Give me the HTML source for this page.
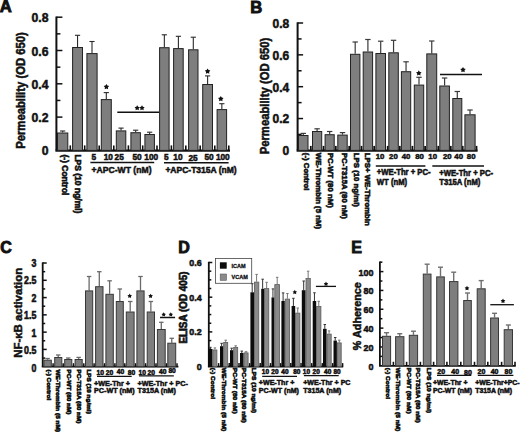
<!DOCTYPE html>
<html><head><meta charset="utf-8"><title>Figure</title>
<style>
html,body{margin:0;padding:0;background:#fff;}
body{width:520px;height:432px;overflow:hidden;}
svg{display:block;font-family:"Liberation Sans", sans-serif;}
</style></head>
<body>
<svg width="520" height="432" viewBox="0 0 520 432">
<rect x="0" y="0" width="520" height="432" fill="#fff"/>
<text x="-0.3" y="12.1" font-size="16.6" font-weight="bold" text-anchor="start" fill="#111" stroke="#111" stroke-width="0.9">A</text>
<line x1="56.4" y1="16.5" x2="56.4" y2="150.4" stroke="#111" stroke-width="2"/>
<line x1="56.4" y1="17.2" x2="62.4" y2="17.2" stroke="#111" stroke-width="1.5"/>
<line x1="56.4" y1="50.5" x2="62.4" y2="50.5" stroke="#111" stroke-width="1.5"/>
<line x1="56.4" y1="83.8" x2="62.4" y2="83.8" stroke="#111" stroke-width="1.5"/>
<line x1="56.4" y1="117.1" x2="62.4" y2="117.1" stroke="#111" stroke-width="1.5"/>
<line x1="56.4" y1="33.85" x2="60.4" y2="33.85" stroke="#111" stroke-width="1.5"/>
<line x1="56.4" y1="67.15" x2="60.4" y2="67.15" stroke="#111" stroke-width="1.5"/>
<line x1="56.4" y1="100.45" x2="60.4" y2="100.45" stroke="#111" stroke-width="1.5"/>
<line x1="56.4" y1="133.75" x2="60.4" y2="133.75" stroke="#111" stroke-width="1.5"/>
<text x="48.5" y="22.2" font-size="12.2" font-weight="bold" text-anchor="end" fill="#111" stroke="#111" stroke-width="0.5">0.8</text>
<text x="48.5" y="55.5" font-size="12.2" font-weight="bold" text-anchor="end" fill="#111" stroke="#111" stroke-width="0.5">0.6</text>
<text x="48.5" y="88.8" font-size="12.2" font-weight="bold" text-anchor="end" fill="#111" stroke="#111" stroke-width="0.5">0.4</text>
<text x="48.5" y="122.1" font-size="12.2" font-weight="bold" text-anchor="end" fill="#111" stroke="#111" stroke-width="0.5">0.2</text>
<text x="48.5" y="155.4" font-size="12.2" font-weight="bold" text-anchor="end" fill="#111" stroke="#111" stroke-width="0.5">0</text>
<text x="0" y="0" font-size="11.3" font-weight="bold" text-anchor="middle" fill="#111" transform="translate(25.3 90.5) rotate(-90) scale(1 1.06)" stroke="#111" stroke-width="0.5">Permeability (OD 650)</text>
<line x1="55.4" y1="150.6" x2="230" y2="150.6" stroke="#111" stroke-width="2.2"/>
<line x1="70.3" y1="145.4" x2="70.3" y2="150.4" stroke="#111" stroke-width="1.6"/>
<line x1="84.7" y1="145.4" x2="84.7" y2="150.4" stroke="#111" stroke-width="1.6"/>
<line x1="99.2" y1="145.4" x2="99.2" y2="150.4" stroke="#111" stroke-width="1.6"/>
<line x1="113.8" y1="145.4" x2="113.8" y2="150.4" stroke="#111" stroke-width="1.6"/>
<line x1="128.4" y1="145.4" x2="128.4" y2="150.4" stroke="#111" stroke-width="1.6"/>
<line x1="142.7" y1="145.4" x2="142.7" y2="150.4" stroke="#111" stroke-width="1.6"/>
<line x1="157" y1="145.4" x2="157" y2="150.4" stroke="#111" stroke-width="1.6"/>
<line x1="171.4" y1="145.4" x2="171.4" y2="150.4" stroke="#111" stroke-width="1.6"/>
<line x1="185.8" y1="145.4" x2="185.8" y2="150.4" stroke="#111" stroke-width="1.6"/>
<line x1="200.2" y1="145.4" x2="200.2" y2="150.4" stroke="#111" stroke-width="1.6"/>
<line x1="214.8" y1="145.4" x2="214.8" y2="150.4" stroke="#111" stroke-width="1.6"/>
<line x1="228.8" y1="145.4" x2="228.8" y2="150.4" stroke="#111" stroke-width="1.6"/>
<line x1="62.65" y1="132.5" x2="62.65" y2="131" stroke="#2a2a2a" stroke-width="1.1"/>
<line x1="60.05" y1="131" x2="65.25" y2="131" stroke="#2a2a2a" stroke-width="1.1"/>
<rect x="57.5" y="133" width="10.3" height="17.4" fill="#7e7e7e" stroke="#222" stroke-width="1"/>
<line x1="77.55" y1="47" x2="77.55" y2="35.3" stroke="#2a2a2a" stroke-width="1.1"/>
<line x1="74.95" y1="35.3" x2="80.15" y2="35.3" stroke="#2a2a2a" stroke-width="1.1"/>
<rect x="72.6" y="47.5" width="9.9" height="102.9" fill="#7e7e7e" stroke="#222" stroke-width="1"/>
<line x1="92" y1="53.1" x2="92" y2="41.5" stroke="#2a2a2a" stroke-width="1.1"/>
<line x1="89.4" y1="41.5" x2="94.6" y2="41.5" stroke="#2a2a2a" stroke-width="1.1"/>
<rect x="86.9" y="53.6" width="10.2" height="96.8" fill="#7e7e7e" stroke="#222" stroke-width="1"/>
<line x1="106.3" y1="99.1" x2="106.3" y2="92.6" stroke="#2a2a2a" stroke-width="1.1"/>
<line x1="103.7" y1="92.6" x2="108.9" y2="92.6" stroke="#2a2a2a" stroke-width="1.1"/>
<rect x="101.3" y="99.6" width="10" height="50.8" fill="#7e7e7e" stroke="#222" stroke-width="1"/>
<line x1="121.05" y1="130.4" x2="121.05" y2="128.1" stroke="#2a2a2a" stroke-width="1.1"/>
<line x1="118.45" y1="128.1" x2="123.65" y2="128.1" stroke="#2a2a2a" stroke-width="1.1"/>
<rect x="116.3" y="130.9" width="9.5" height="19.5" fill="#7e7e7e" stroke="#222" stroke-width="1"/>
<line x1="135.65" y1="132.2" x2="135.65" y2="130.2" stroke="#2a2a2a" stroke-width="1.1"/>
<line x1="133.05" y1="130.2" x2="138.25" y2="130.2" stroke="#2a2a2a" stroke-width="1.1"/>
<rect x="130.9" y="132.7" width="9.5" height="17.7" fill="#7e7e7e" stroke="#222" stroke-width="1"/>
<line x1="149.65" y1="134" x2="149.65" y2="132.2" stroke="#2a2a2a" stroke-width="1.1"/>
<line x1="147.05" y1="132.2" x2="152.25" y2="132.2" stroke="#2a2a2a" stroke-width="1.1"/>
<rect x="144.9" y="134.5" width="9.5" height="15.9" fill="#7e7e7e" stroke="#222" stroke-width="1"/>
<line x1="164.35" y1="47.2" x2="164.35" y2="34.8" stroke="#2a2a2a" stroke-width="1.1"/>
<line x1="161.75" y1="34.8" x2="166.95" y2="34.8" stroke="#2a2a2a" stroke-width="1.1"/>
<rect x="159.6" y="47.7" width="9.5" height="102.7" fill="#7e7e7e" stroke="#222" stroke-width="1"/>
<line x1="178.4" y1="48.1" x2="178.4" y2="36.3" stroke="#2a2a2a" stroke-width="1.1"/>
<line x1="175.8" y1="36.3" x2="181" y2="36.3" stroke="#2a2a2a" stroke-width="1.1"/>
<rect x="173.6" y="48.6" width="9.6" height="101.8" fill="#7e7e7e" stroke="#222" stroke-width="1"/>
<line x1="193.3" y1="49.3" x2="193.3" y2="37.2" stroke="#2a2a2a" stroke-width="1.1"/>
<line x1="190.7" y1="37.2" x2="195.9" y2="37.2" stroke="#2a2a2a" stroke-width="1.1"/>
<rect x="188.6" y="49.8" width="9.4" height="100.6" fill="#7e7e7e" stroke="#222" stroke-width="1"/>
<line x1="207.6" y1="84" x2="207.6" y2="75.9" stroke="#2a2a2a" stroke-width="1.1"/>
<line x1="205" y1="75.9" x2="210.2" y2="75.9" stroke="#2a2a2a" stroke-width="1.1"/>
<rect x="202.7" y="84.5" width="9.8" height="65.9" fill="#7e7e7e" stroke="#222" stroke-width="1"/>
<line x1="221.85" y1="109.1" x2="221.85" y2="103.7" stroke="#2a2a2a" stroke-width="1.1"/>
<line x1="219.25" y1="103.7" x2="224.45" y2="103.7" stroke="#2a2a2a" stroke-width="1.1"/>
<rect x="217.1" y="109.6" width="9.5" height="40.8" fill="#7e7e7e" stroke="#222" stroke-width="1"/>
<polygon points="106.4,83.9 107.34,85.51 109.16,85.9 107.92,87.29 108.1,89.15 106.4,88.39 104.7,89.15 104.88,87.29 103.64,85.9 105.46,85.51" fill="#111"/>
<polygon points="220.8,96 221.74,97.61 223.56,98 222.32,99.39 222.5,101.25 220.8,100.5 219.1,101.25 219.28,99.39 218.04,98 219.86,97.61" fill="#111"/>
<polygon points="207.6,68.5 208.54,70.11 210.36,70.5 209.12,71.89 209.3,73.75 207.6,73 205.9,73.75 206.08,71.89 204.84,70.5 206.66,70.11" fill="#111"/>
<line x1="117.3" y1="112.3" x2="159" y2="112.3" stroke="#111" stroke-width="1.5"/>
<polygon points="137.2,105.2 138.11,106.75 139.86,107.13 138.66,108.48 138.85,110.27 137.2,109.54 135.55,110.27 135.74,108.48 134.54,107.13 136.29,106.75" fill="#111"/>
<polygon points="142,105.2 142.91,106.75 144.66,107.13 143.46,108.48 143.65,110.27 142,109.54 140.35,110.27 140.54,108.48 139.34,107.13 141.09,106.75" fill="#111"/>
<text x="0" y="0" font-size="8.5" font-weight="bold" text-anchor="start" fill="#111" transform="translate(61.7 154.4) rotate(90)" stroke="#111" stroke-width="0.6">(-) Control</text>
<text x="0" y="0" font-size="8.5" font-weight="bold" text-anchor="start" fill="#111" transform="translate(75.2 154.4) rotate(90)" stroke="#111" stroke-width="0.6">LPS (10 ng/ml)</text>
<text x="93.8" y="160.3" font-size="8.3" font-weight="bold" text-anchor="middle" fill="#111" stroke="#111" stroke-width="0.5">5</text>
<text x="108.3" y="160.3" font-size="8.3" font-weight="bold" text-anchor="middle" fill="#111" stroke="#111" stroke-width="0.5">10</text>
<text x="119.2" y="160.1" font-size="8.3" font-weight="bold" text-anchor="middle" fill="#111" stroke="#111" stroke-width="0.5">25</text>
<text x="137" y="160.3" font-size="8.3" font-weight="bold" text-anchor="middle" fill="#111" stroke="#111" stroke-width="0.5">50</text>
<text x="151.2" y="160.3" font-size="8.3" font-weight="bold" text-anchor="middle" fill="#111" stroke="#111" stroke-width="0.5">100</text>
<text x="166.2" y="160" font-size="8.3" font-weight="bold" text-anchor="middle" fill="#111" stroke="#111" stroke-width="0.5">5</text>
<text x="177.9" y="160" font-size="8.3" font-weight="bold" text-anchor="middle" fill="#111" stroke="#111" stroke-width="0.5">10</text>
<text x="193.1" y="161.3" font-size="8.3" font-weight="bold" text-anchor="middle" fill="#111" stroke="#111" stroke-width="0.5">25</text>
<text x="209" y="160" font-size="8.3" font-weight="bold" text-anchor="middle" fill="#111" stroke="#111" stroke-width="0.5">50</text>
<text x="222.8" y="160" font-size="8.3" font-weight="bold" text-anchor="middle" fill="#111" stroke="#111" stroke-width="0.5">100</text>
<line x1="90.4" y1="162.5" x2="154.2" y2="162.5" stroke="#111" stroke-width="1.3"/>
<line x1="164" y1="162.7" x2="228.6" y2="162.7" stroke="#111" stroke-width="1.4"/>
<text x="91.6" y="172.9" font-size="8.6" font-weight="bold" text-anchor="start" fill="#111" stroke="#111" stroke-width="0.5">+APC-WT (nM)</text>
<text x="165.4" y="173.1" font-size="8.5" font-weight="bold" text-anchor="start" fill="#111" stroke="#111" stroke-width="0.5">+APC-T315A (nM)</text>
<text x="250.3" y="12.6" font-size="16.6" font-weight="bold" text-anchor="start" fill="#111" stroke="#111" stroke-width="0.9">B</text>
<line x1="297.6" y1="22.3" x2="297.6" y2="150.4" stroke="#111" stroke-width="2"/>
<line x1="297.6" y1="23" x2="303.1" y2="23" stroke="#111" stroke-width="1.5"/>
<line x1="297.6" y1="54.85" x2="303.1" y2="54.85" stroke="#111" stroke-width="1.5"/>
<line x1="297.6" y1="86.7" x2="303.1" y2="86.7" stroke="#111" stroke-width="1.5"/>
<line x1="297.6" y1="118.55" x2="303.1" y2="118.55" stroke="#111" stroke-width="1.5"/>
<line x1="297.6" y1="38.93" x2="301.6" y2="38.93" stroke="#111" stroke-width="1.5"/>
<line x1="297.6" y1="70.78" x2="301.6" y2="70.78" stroke="#111" stroke-width="1.5"/>
<line x1="297.6" y1="102.62" x2="301.6" y2="102.62" stroke="#111" stroke-width="1.5"/>
<line x1="297.6" y1="134.47" x2="301.6" y2="134.47" stroke="#111" stroke-width="1.5"/>
<text x="289.2" y="27.8" font-size="12" font-weight="bold" text-anchor="end" fill="#111" stroke="#111" stroke-width="0.5">0.8</text>
<text x="289.2" y="59.65" font-size="12" font-weight="bold" text-anchor="end" fill="#111" stroke="#111" stroke-width="0.5">0.6</text>
<text x="289.2" y="91.5" font-size="12" font-weight="bold" text-anchor="end" fill="#111" stroke="#111" stroke-width="0.5">0.4</text>
<text x="289.2" y="123.35" font-size="12" font-weight="bold" text-anchor="end" fill="#111" stroke="#111" stroke-width="0.5">0.2</text>
<text x="289.2" y="155.2" font-size="12" font-weight="bold" text-anchor="end" fill="#111" stroke="#111" stroke-width="0.5">0</text>
<text x="0" y="0" font-size="11.3" font-weight="bold" text-anchor="middle" fill="#111" transform="translate(268.5 96) rotate(-90) scale(1 1.06)" stroke="#111" stroke-width="0.5">Permeability (OD 650)</text>
<line x1="296.6" y1="150.6" x2="477.6" y2="150.6" stroke="#111" stroke-width="2.2"/>
<line x1="310.8" y1="145.9" x2="310.8" y2="150.4" stroke="#111" stroke-width="1.8"/>
<line x1="323.5" y1="145.9" x2="323.5" y2="150.4" stroke="#111" stroke-width="1.8"/>
<line x1="335.8" y1="145.9" x2="335.8" y2="150.4" stroke="#111" stroke-width="1.8"/>
<line x1="349.2" y1="145.9" x2="349.2" y2="150.4" stroke="#111" stroke-width="1.8"/>
<line x1="361.5" y1="145.9" x2="361.5" y2="150.4" stroke="#111" stroke-width="1.8"/>
<line x1="374.2" y1="145.9" x2="374.2" y2="150.4" stroke="#111" stroke-width="1.8"/>
<line x1="387.7" y1="145.9" x2="387.7" y2="150.4" stroke="#111" stroke-width="1.8"/>
<line x1="399.8" y1="145.9" x2="399.8" y2="150.4" stroke="#111" stroke-width="1.8"/>
<line x1="412.4" y1="145.9" x2="412.4" y2="150.4" stroke="#111" stroke-width="1.8"/>
<line x1="425.1" y1="145.9" x2="425.1" y2="150.4" stroke="#111" stroke-width="1.8"/>
<line x1="438.3" y1="145.9" x2="438.3" y2="150.4" stroke="#111" stroke-width="1.8"/>
<line x1="450.8" y1="145.9" x2="450.8" y2="150.4" stroke="#111" stroke-width="1.8"/>
<line x1="462.7" y1="145.9" x2="462.7" y2="150.4" stroke="#111" stroke-width="1.8"/>
<line x1="476.5" y1="145.9" x2="476.5" y2="150.4" stroke="#111" stroke-width="1.8"/>
<line x1="303.25" y1="135" x2="303.25" y2="133.4" stroke="#3a3a3a" stroke-width="1.2"/>
<line x1="300.55" y1="133.4" x2="305.95" y2="133.4" stroke="#3a3a3a" stroke-width="1.2"/>
<rect x="298.5" y="135.5" width="9.5" height="14.9" fill="#7e7e7e" stroke="#222" stroke-width="1"/>
<line x1="317.1" y1="131" x2="317.1" y2="128.8" stroke="#3a3a3a" stroke-width="1.2"/>
<line x1="314.4" y1="128.8" x2="319.8" y2="128.8" stroke="#3a3a3a" stroke-width="1.2"/>
<rect x="312.5" y="131.5" width="9.2" height="18.9" fill="#7e7e7e" stroke="#222" stroke-width="1"/>
<line x1="329.65" y1="134.2" x2="329.65" y2="131.5" stroke="#3a3a3a" stroke-width="1.2"/>
<line x1="326.95" y1="131.5" x2="332.35" y2="131.5" stroke="#3a3a3a" stroke-width="1.2"/>
<rect x="325.1" y="134.7" width="9.1" height="15.7" fill="#7e7e7e" stroke="#222" stroke-width="1"/>
<line x1="342.5" y1="134.6" x2="342.5" y2="132.6" stroke="#3a3a3a" stroke-width="1.2"/>
<line x1="339.8" y1="132.6" x2="345.2" y2="132.6" stroke="#3a3a3a" stroke-width="1.2"/>
<rect x="337.8" y="135.1" width="9.4" height="15.3" fill="#7e7e7e" stroke="#222" stroke-width="1"/>
<line x1="355.2" y1="53.8" x2="355.2" y2="42" stroke="#3a3a3a" stroke-width="1.2"/>
<line x1="352.5" y1="42" x2="357.9" y2="42" stroke="#3a3a3a" stroke-width="1.2"/>
<rect x="350.5" y="54.3" width="9.4" height="96.1" fill="#7e7e7e" stroke="#222" stroke-width="1"/>
<line x1="367.9" y1="51.5" x2="367.9" y2="39.5" stroke="#3a3a3a" stroke-width="1.2"/>
<line x1="365.2" y1="39.5" x2="370.6" y2="39.5" stroke="#3a3a3a" stroke-width="1.2"/>
<rect x="363.2" y="52" width="9.4" height="98.4" fill="#7e7e7e" stroke="#222" stroke-width="1"/>
<line x1="380.7" y1="53" x2="380.7" y2="41.2" stroke="#3a3a3a" stroke-width="1.2"/>
<line x1="378" y1="41.2" x2="383.4" y2="41.2" stroke="#3a3a3a" stroke-width="1.2"/>
<rect x="375.9" y="53.5" width="9.6" height="96.9" fill="#7e7e7e" stroke="#222" stroke-width="1"/>
<line x1="393.55" y1="52.3" x2="393.55" y2="40.3" stroke="#3a3a3a" stroke-width="1.2"/>
<line x1="390.85" y1="40.3" x2="396.25" y2="40.3" stroke="#3a3a3a" stroke-width="1.2"/>
<rect x="388.8" y="52.8" width="9.5" height="97.6" fill="#7e7e7e" stroke="#222" stroke-width="1"/>
<line x1="406.05" y1="71.2" x2="406.05" y2="61.8" stroke="#3a3a3a" stroke-width="1.2"/>
<line x1="403.35" y1="61.8" x2="408.75" y2="61.8" stroke="#3a3a3a" stroke-width="1.2"/>
<rect x="401.4" y="71.7" width="9.3" height="78.7" fill="#7e7e7e" stroke="#222" stroke-width="1"/>
<line x1="419" y1="84.6" x2="419" y2="77.3" stroke="#3a3a3a" stroke-width="1.2"/>
<line x1="416.3" y1="77.3" x2="421.7" y2="77.3" stroke="#3a3a3a" stroke-width="1.2"/>
<rect x="414.3" y="85.1" width="9.4" height="65.3" fill="#7e7e7e" stroke="#222" stroke-width="1"/>
<line x1="431.75" y1="53.4" x2="431.75" y2="41" stroke="#3a3a3a" stroke-width="1.2"/>
<line x1="429.05" y1="41" x2="434.45" y2="41" stroke="#3a3a3a" stroke-width="1.2"/>
<rect x="426.8" y="53.9" width="9.9" height="96.5" fill="#7e7e7e" stroke="#222" stroke-width="1"/>
<line x1="444.6" y1="85.5" x2="444.6" y2="78" stroke="#3a3a3a" stroke-width="1.2"/>
<line x1="441.9" y1="78" x2="447.3" y2="78" stroke="#3a3a3a" stroke-width="1.2"/>
<rect x="439.8" y="86" width="9.6" height="64.4" fill="#7e7e7e" stroke="#222" stroke-width="1"/>
<line x1="457.3" y1="98" x2="457.3" y2="91.5" stroke="#3a3a3a" stroke-width="1.2"/>
<line x1="454.6" y1="91.5" x2="460" y2="91.5" stroke="#3a3a3a" stroke-width="1.2"/>
<rect x="452.8" y="98.5" width="9" height="51.9" fill="#7e7e7e" stroke="#222" stroke-width="1"/>
<line x1="470" y1="114.3" x2="470" y2="110" stroke="#3a3a3a" stroke-width="1.2"/>
<line x1="467.3" y1="110" x2="472.7" y2="110" stroke="#3a3a3a" stroke-width="1.2"/>
<rect x="464.9" y="114.8" width="10.2" height="35.6" fill="#7e7e7e" stroke="#222" stroke-width="1"/>
<polygon points="418.8,70.3 419.74,71.91 421.56,72.3 420.32,73.69 420.5,75.55 418.8,74.8 417.1,75.55 417.28,73.69 416.04,72.3 417.86,71.91" fill="#111"/>
<line x1="440" y1="74.6" x2="482" y2="74.6" stroke="#111" stroke-width="1.5"/>
<polygon points="463,66.9 463.94,68.51 465.76,68.9 464.52,70.29 464.7,72.15 463,71.39 461.3,72.15 461.48,70.29 460.24,68.9 462.06,68.51" fill="#111"/>
<text x="0" y="0" font-size="7.8" font-weight="bold" text-anchor="start" fill="#111" transform="translate(303.9 152.8) rotate(90)" stroke="#111" stroke-width="0.6">(-) Control</text>
<text x="0" y="0" font-size="7.8" font-weight="bold" text-anchor="start" fill="#111" transform="translate(316.1 152.8) rotate(90)" stroke="#111" stroke-width="0.6">WE-Thrombin (5 nM)</text>
<text x="0" y="0" font-size="7.8" font-weight="bold" text-anchor="start" fill="#111" transform="translate(328.3 152.8) rotate(90)" stroke="#111" stroke-width="0.6">PC-WT (80 nM)</text>
<text x="0" y="0" font-size="7.8" font-weight="bold" text-anchor="start" fill="#111" transform="translate(341.5 152.8) rotate(90)" stroke="#111" stroke-width="0.6">PC-T315A (80 nM)</text>
<text x="0" y="0" font-size="7.8" font-weight="bold" text-anchor="start" fill="#111" transform="translate(354.1 152.8) rotate(90)" stroke="#111" stroke-width="0.6">LPS (10 ng/ml)</text>
<text x="0" y="0" font-size="7.8" font-weight="bold" text-anchor="start" fill="#111" transform="translate(365.3 152.8) rotate(90)" stroke="#111" stroke-width="0.6">LPS+ WE-Thrombin</text>
<text x="380" y="159.3" font-size="7.8" font-weight="bold" text-anchor="middle" fill="#111" stroke="#111" stroke-width="0.5">10</text>
<text x="393.4" y="159.3" font-size="7.8" font-weight="bold" text-anchor="middle" fill="#111" stroke="#111" stroke-width="0.5">20</text>
<text x="406" y="159.3" font-size="7.8" font-weight="bold" text-anchor="middle" fill="#111" stroke="#111" stroke-width="0.5">40</text>
<text x="419.6" y="159.3" font-size="7.8" font-weight="bold" text-anchor="middle" fill="#111" stroke="#111" stroke-width="0.5">80</text>
<text x="432.7" y="159.3" font-size="7.8" font-weight="bold" text-anchor="middle" fill="#111" stroke="#111" stroke-width="0.5">10</text>
<text x="447.3" y="159.3" font-size="7.8" font-weight="bold" text-anchor="middle" fill="#111" stroke="#111" stroke-width="0.5">20</text>
<text x="458.7" y="159.3" font-size="7.8" font-weight="bold" text-anchor="middle" fill="#111" stroke="#111" stroke-width="0.5">40</text>
<text x="471.2" y="159.3" font-size="7.8" font-weight="bold" text-anchor="middle" fill="#111" stroke="#111" stroke-width="0.5">80</text>
<line x1="375.8" y1="165.9" x2="425.4" y2="165.9" stroke="#111" stroke-width="1.5"/>
<line x1="432.3" y1="166" x2="484" y2="166" stroke="#111" stroke-width="1.5"/>
<text x="0" y="0" font-size="7.7" font-weight="bold" text-anchor="start" fill="#111" transform="translate(376.8 175.4) scale(1 1.08)" stroke="#111" stroke-width="0.5">+WE-Thr + PC-</text>
<text x="0" y="0" font-size="7.7" font-weight="bold" text-anchor="start" fill="#111" transform="translate(376.8 184.6) scale(1 1.08)" stroke="#111" stroke-width="0.5">WT (nM)</text>
<text x="0" y="0" font-size="7.7" font-weight="bold" text-anchor="start" fill="#111" transform="translate(439.2 175.6) scale(1 1.08)" stroke="#111" stroke-width="0.5">+WE-Thr + PC-</text>
<text x="0" y="0" font-size="7.7" font-weight="bold" text-anchor="start" fill="#111" transform="translate(439.2 184.6) scale(1 1.08)" stroke="#111" stroke-width="0.5">T315A (nM)</text>
<text x="0.3" y="253.4" font-size="16" font-weight="bold" text-anchor="start" fill="#111" stroke="#111" stroke-width="0.9">C</text>
<line x1="42.7" y1="262.32" x2="42.7" y2="366.7" stroke="#111" stroke-width="1.8"/>
<line x1="42.7" y1="263.02" x2="46.7" y2="263.02" stroke="#111" stroke-width="1.5"/>
<line x1="42.7" y1="280.3" x2="46.7" y2="280.3" stroke="#111" stroke-width="1.5"/>
<line x1="42.7" y1="297.58" x2="46.7" y2="297.58" stroke="#111" stroke-width="1.5"/>
<line x1="42.7" y1="314.86" x2="46.7" y2="314.86" stroke="#111" stroke-width="1.5"/>
<line x1="42.7" y1="332.14" x2="46.7" y2="332.14" stroke="#111" stroke-width="1.5"/>
<line x1="42.7" y1="349.42" x2="46.7" y2="349.42" stroke="#111" stroke-width="1.5"/>
<line x1="42.7" y1="271.66" x2="45.2" y2="271.66" stroke="#111" stroke-width="1.5"/>
<line x1="42.7" y1="288.94" x2="45.2" y2="288.94" stroke="#111" stroke-width="1.5"/>
<line x1="42.7" y1="306.22" x2="45.2" y2="306.22" stroke="#111" stroke-width="1.5"/>
<line x1="42.7" y1="323.5" x2="45.2" y2="323.5" stroke="#111" stroke-width="1.5"/>
<line x1="42.7" y1="340.78" x2="45.2" y2="340.78" stroke="#111" stroke-width="1.5"/>
<line x1="42.7" y1="358.06" x2="45.2" y2="358.06" stroke="#111" stroke-width="1.5"/>
<text x="0" y="0" font-size="8.8" font-weight="bold" text-anchor="end" fill="#111" transform="translate(36.3 266.72) scale(1 1.18)" stroke="#111" stroke-width="0.5">3</text>
<text x="0" y="0" font-size="8.8" font-weight="bold" text-anchor="end" fill="#111" transform="translate(36.3 284.21) scale(1 1.18)" stroke="#111" stroke-width="0.5">2.5</text>
<text x="0" y="0" font-size="8.8" font-weight="bold" text-anchor="end" fill="#111" transform="translate(36.3 301.71) scale(1 1.18)" stroke="#111" stroke-width="0.5">2</text>
<text x="0" y="0" font-size="8.8" font-weight="bold" text-anchor="end" fill="#111" transform="translate(36.3 319.2) scale(1 1.18)" stroke="#111" stroke-width="0.5">1.5</text>
<text x="0" y="0" font-size="8.8" font-weight="bold" text-anchor="end" fill="#111" transform="translate(36.3 336.7) scale(1 1.18)" stroke="#111" stroke-width="0.5">1</text>
<text x="0" y="0" font-size="8.8" font-weight="bold" text-anchor="end" fill="#111" transform="translate(36.3 354.19) scale(1 1.18)" stroke="#111" stroke-width="0.5">0.5</text>
<text x="0" y="0" font-size="8.8" font-weight="bold" text-anchor="end" fill="#111" transform="translate(36.3 371.69) scale(1 1.18)" stroke="#111" stroke-width="0.5">0</text>
<text x="0" y="0" font-size="11.4" font-weight="bold" text-anchor="middle" fill="#111" transform="translate(22.3 312.8) rotate(-90)" stroke="#111" stroke-width="0.5">NF-κB activation</text>
<line x1="41.8" y1="366.7" x2="178.4" y2="366.7" stroke="#111" stroke-width="1.8"/>
<line x1="53.1" y1="363.2" x2="53.1" y2="366.7" stroke="#111" stroke-width="1.5"/>
<line x1="63.2" y1="363.2" x2="63.2" y2="366.7" stroke="#111" stroke-width="1.5"/>
<line x1="73.5" y1="363.2" x2="73.5" y2="366.7" stroke="#111" stroke-width="1.5"/>
<line x1="83.8" y1="363.2" x2="83.8" y2="366.7" stroke="#111" stroke-width="1.5"/>
<line x1="94.1" y1="363.2" x2="94.1" y2="366.7" stroke="#111" stroke-width="1.5"/>
<line x1="104.5" y1="363.2" x2="104.5" y2="366.7" stroke="#111" stroke-width="1.5"/>
<line x1="114.9" y1="363.2" x2="114.9" y2="366.7" stroke="#111" stroke-width="1.5"/>
<line x1="124.8" y1="363.2" x2="124.8" y2="366.7" stroke="#111" stroke-width="1.5"/>
<line x1="135.5" y1="363.2" x2="135.5" y2="366.7" stroke="#111" stroke-width="1.5"/>
<line x1="145.6" y1="363.2" x2="145.6" y2="366.7" stroke="#111" stroke-width="1.5"/>
<line x1="156" y1="363.2" x2="156" y2="366.7" stroke="#111" stroke-width="1.5"/>
<line x1="166.5" y1="363.2" x2="166.5" y2="366.7" stroke="#111" stroke-width="1.5"/>
<line x1="177" y1="363.2" x2="177" y2="366.7" stroke="#111" stroke-width="1.5"/>
<line x1="47.6" y1="359.7" x2="47.6" y2="358.5" stroke="#6a6a6a" stroke-width="1.3"/>
<line x1="45.35" y1="358.5" x2="49.85" y2="358.5" stroke="#6a6a6a" stroke-width="1.3"/>
<rect x="43.9" y="360.2" width="7.4" height="6.5" fill="#7e7e7e" stroke="#383838" stroke-width="1"/>
<line x1="58.25" y1="357" x2="58.25" y2="355" stroke="#6a6a6a" stroke-width="1.3"/>
<line x1="56" y1="355" x2="60.5" y2="355" stroke="#6a6a6a" stroke-width="1.3"/>
<rect x="54.7" y="357.5" width="7.1" height="9.2" fill="#7e7e7e" stroke="#383838" stroke-width="1"/>
<line x1="68.25" y1="359" x2="68.25" y2="358" stroke="#6a6a6a" stroke-width="1.3"/>
<line x1="66" y1="358" x2="70.5" y2="358" stroke="#6a6a6a" stroke-width="1.3"/>
<rect x="64.7" y="359.5" width="7.1" height="7.2" fill="#7e7e7e" stroke="#383838" stroke-width="1"/>
<line x1="78.65" y1="359" x2="78.65" y2="357.4" stroke="#6a6a6a" stroke-width="1.3"/>
<line x1="76.4" y1="357.4" x2="80.9" y2="357.4" stroke="#6a6a6a" stroke-width="1.3"/>
<rect x="75.1" y="359.5" width="7.1" height="7.2" fill="#7e7e7e" stroke="#383838" stroke-width="1"/>
<line x1="89.1" y1="290.4" x2="89.1" y2="276.5" stroke="#6a6a6a" stroke-width="1.3"/>
<line x1="86.85" y1="276.5" x2="91.35" y2="276.5" stroke="#6a6a6a" stroke-width="1.3"/>
<rect x="85.5" y="290.9" width="7.2" height="75.8" fill="#7e7e7e" stroke="#383838" stroke-width="1"/>
<line x1="99.3" y1="286.2" x2="99.3" y2="271.7" stroke="#6a6a6a" stroke-width="1.3"/>
<line x1="97.05" y1="271.7" x2="101.55" y2="271.7" stroke="#6a6a6a" stroke-width="1.3"/>
<rect x="95.6" y="286.7" width="7.4" height="80" fill="#7e7e7e" stroke="#383838" stroke-width="1"/>
<line x1="109.6" y1="293.8" x2="109.6" y2="280.8" stroke="#6a6a6a" stroke-width="1.3"/>
<line x1="107.35" y1="280.8" x2="111.85" y2="280.8" stroke="#6a6a6a" stroke-width="1.3"/>
<rect x="105.9" y="294.3" width="7.4" height="72.4" fill="#7e7e7e" stroke="#383838" stroke-width="1"/>
<line x1="119.8" y1="301" x2="119.8" y2="289" stroke="#6a6a6a" stroke-width="1.3"/>
<line x1="117.55" y1="289" x2="122.05" y2="289" stroke="#6a6a6a" stroke-width="1.3"/>
<rect x="116.3" y="301.5" width="7" height="65.2" fill="#7e7e7e" stroke="#383838" stroke-width="1"/>
<line x1="130.2" y1="311.5" x2="130.2" y2="301.5" stroke="#6a6a6a" stroke-width="1.3"/>
<line x1="127.95" y1="301.5" x2="132.45" y2="301.5" stroke="#6a6a6a" stroke-width="1.3"/>
<rect x="126.3" y="312" width="7.8" height="54.7" fill="#7e7e7e" stroke="#383838" stroke-width="1"/>
<line x1="140.5" y1="290.4" x2="140.5" y2="276.5" stroke="#6a6a6a" stroke-width="1.3"/>
<line x1="138.25" y1="276.5" x2="142.75" y2="276.5" stroke="#6a6a6a" stroke-width="1.3"/>
<rect x="136.9" y="290.9" width="7.2" height="75.8" fill="#7e7e7e" stroke="#383838" stroke-width="1"/>
<line x1="150.85" y1="311.5" x2="150.85" y2="301.5" stroke="#6a6a6a" stroke-width="1.3"/>
<line x1="148.6" y1="301.5" x2="153.1" y2="301.5" stroke="#6a6a6a" stroke-width="1.3"/>
<rect x="147.2" y="312" width="7.3" height="54.7" fill="#7e7e7e" stroke="#383838" stroke-width="1"/>
<line x1="161.3" y1="329" x2="161.3" y2="322.3" stroke="#6a6a6a" stroke-width="1.3"/>
<line x1="159.05" y1="322.3" x2="163.55" y2="322.3" stroke="#6a6a6a" stroke-width="1.3"/>
<rect x="157.4" y="329.5" width="7.8" height="37.2" fill="#7e7e7e" stroke="#383838" stroke-width="1"/>
<line x1="171.75" y1="342.7" x2="171.75" y2="338.3" stroke="#6a6a6a" stroke-width="1.3"/>
<line x1="169.5" y1="338.3" x2="174" y2="338.3" stroke="#6a6a6a" stroke-width="1.3"/>
<rect x="167.8" y="343.2" width="7.9" height="23.5" fill="#7e7e7e" stroke="#383838" stroke-width="1"/>
<polygon points="129.7,293.6 130.48,294.93 131.98,295.26 130.96,296.41 131.11,297.94 129.7,297.32 128.29,297.94 128.44,296.41 127.42,295.26 128.92,294.93" fill="#111"/>
<polygon points="150.6,293.7 151.38,295.03 152.88,295.36 151.86,296.51 152.01,298.04 150.6,297.42 149.19,298.04 149.34,296.51 148.32,295.36 149.82,295.03" fill="#111"/>
<line x1="160" y1="317.5" x2="175.1" y2="317.5" stroke="#111" stroke-width="1.5"/>
<polygon points="163.7,312.3 164.44,313.58 165.89,313.89 164.9,314.99 165.05,316.46 163.7,315.87 162.35,316.46 162.5,314.99 161.51,313.89 162.96,313.58" fill="#111"/>
<polygon points="170.8,312.3 171.54,313.58 172.99,313.89 172,314.99 172.15,316.46 170.8,315.87 169.45,316.46 169.6,314.99 168.61,313.89 170.06,313.58" fill="#111"/>
<text x="0" y="0" font-size="6.4" font-weight="bold" text-anchor="start" fill="#111" transform="translate(46.9 369.4) rotate(90) scale(1 0.88)" stroke="#111" stroke-width="0.65">(-) Control</text>
<text x="0" y="0" font-size="6.4" font-weight="bold" text-anchor="start" fill="#111" transform="translate(56 369.4) rotate(90) scale(1 0.88)" stroke="#111" stroke-width="0.65">WE-Thrombin (5 nM)</text>
<text x="0" y="0" font-size="6.4" font-weight="bold" text-anchor="start" fill="#111" transform="translate(66.9 369.4) rotate(90) scale(1 0.88)" stroke="#111" stroke-width="0.65">PC-WT (80 nM)</text>
<text x="0" y="0" font-size="6.4" font-weight="bold" text-anchor="start" fill="#111" transform="translate(76.9 369.4) rotate(90) scale(1 0.88)" stroke="#111" stroke-width="0.65">PC-T315A (80 nM)</text>
<text x="0" y="0" font-size="6.4" font-weight="bold" text-anchor="start" fill="#111" transform="translate(87.2 369.4) rotate(90) scale(1 0.88)" stroke="#111" stroke-width="0.65">LPS (10 ng/ml)</text>
<text x="0" y="0" font-size="6.7" font-weight="bold" text-anchor="middle" fill="#111" transform="translate(100.25 374.6) scale(1 1.1)" stroke="#111" stroke-width="0.5">10</text>
<text x="0" y="0" font-size="6.7" font-weight="bold" text-anchor="middle" fill="#111" transform="translate(109.5 374.6) scale(1 1.1)" stroke="#111" stroke-width="0.5">20</text>
<text x="0" y="0" font-size="6.7" font-weight="bold" text-anchor="middle" fill="#111" transform="translate(120.5 374) scale(1 1.1)" stroke="#111" stroke-width="0.5">40</text>
<text x="0" y="0" font-size="6.7" font-weight="bold" text-anchor="middle" fill="#111" transform="translate(131.5 374.8) scale(1 1.1)" stroke="#111" stroke-width="0.5">80</text>
<text x="0" y="0" font-size="6.7" font-weight="bold" text-anchor="middle" fill="#111" transform="translate(142.3 374.6) scale(1 1.1)" stroke="#111" stroke-width="0.5">10</text>
<text x="0" y="0" font-size="6.7" font-weight="bold" text-anchor="middle" fill="#111" transform="translate(151.2 374.6) scale(1 1.1)" stroke="#111" stroke-width="0.5">20</text>
<text x="0" y="0" font-size="6.7" font-weight="bold" text-anchor="middle" fill="#111" transform="translate(162.8 373.7) scale(1 1.1)" stroke="#111" stroke-width="0.5">40</text>
<text x="0" y="0" font-size="6.7" font-weight="bold" text-anchor="middle" fill="#111" transform="translate(172.1 373.3) scale(1 1.1)" stroke="#111" stroke-width="0.5">80</text>
<line x1="97" y1="376.3" x2="131.7" y2="376.3" stroke="#111" stroke-width="1.3"/>
<line x1="139.1" y1="375.9" x2="173.8" y2="375.9" stroke="#111" stroke-width="1.3"/>
<text x="94" y="385.8" font-size="7.2" font-weight="bold" text-anchor="start" fill="#111" stroke="#111" stroke-width="0.5">+WE-Thr +</text>
<text x="94" y="393.3" font-size="7.2" font-weight="bold" text-anchor="start" fill="#111" stroke="#111" stroke-width="0.5">PC-WT (nM)</text>
<text x="137.5" y="385.8" font-size="7.2" font-weight="bold" text-anchor="start" fill="#111" stroke="#111" stroke-width="0.5">+WE-Thr + PC-</text>
<text x="137.5" y="393.3" font-size="7.2" font-weight="bold" text-anchor="start" fill="#111" stroke="#111" stroke-width="0.5">T315A (nM)</text>
<text x="178.2" y="252.9" font-size="16" font-weight="bold" text-anchor="start" fill="#111" stroke="#111" stroke-width="0.9">D</text>
<line x1="208.8" y1="261.8" x2="208.8" y2="366.6" stroke="#111" stroke-width="1.8"/>
<line x1="208.8" y1="262.5" x2="212.3" y2="262.5" stroke="#111" stroke-width="1.5"/>
<line x1="208.8" y1="297.2" x2="212.3" y2="297.2" stroke="#111" stroke-width="1.5"/>
<line x1="208.8" y1="331.9" x2="212.3" y2="331.9" stroke="#111" stroke-width="1.5"/>
<line x1="208.8" y1="271.18" x2="211.3" y2="271.18" stroke="#111" stroke-width="1.5"/>
<line x1="208.8" y1="279.85" x2="211.3" y2="279.85" stroke="#111" stroke-width="1.5"/>
<line x1="208.8" y1="288.53" x2="211.3" y2="288.53" stroke="#111" stroke-width="1.5"/>
<line x1="208.8" y1="305.88" x2="211.3" y2="305.88" stroke="#111" stroke-width="1.5"/>
<line x1="208.8" y1="314.55" x2="211.3" y2="314.55" stroke="#111" stroke-width="1.5"/>
<line x1="208.8" y1="323.23" x2="211.3" y2="323.23" stroke="#111" stroke-width="1.5"/>
<line x1="208.8" y1="340.58" x2="211.3" y2="340.58" stroke="#111" stroke-width="1.5"/>
<line x1="208.8" y1="349.25" x2="211.3" y2="349.25" stroke="#111" stroke-width="1.5"/>
<line x1="208.8" y1="357.93" x2="211.3" y2="357.93" stroke="#111" stroke-width="1.5"/>
<text x="0" y="0" font-size="8.9" font-weight="bold" text-anchor="end" fill="#111" transform="translate(201.6 265.9) scale(1 1.05)" stroke="#111" stroke-width="0.5">0.6</text>
<text x="0" y="0" font-size="8.9" font-weight="bold" text-anchor="end" fill="#111" transform="translate(201.6 300.6) scale(1 1.05)" stroke="#111" stroke-width="0.5">0.4</text>
<text x="0" y="0" font-size="8.9" font-weight="bold" text-anchor="end" fill="#111" transform="translate(201.6 335.3) scale(1 1.05)" stroke="#111" stroke-width="0.5">0.2</text>
<text x="0" y="0" font-size="8.9" font-weight="bold" text-anchor="end" fill="#111" transform="translate(201.6 370) scale(1 1.05)" stroke="#111" stroke-width="0.5">0</text>
<text x="0" y="0" font-size="9.9" font-weight="bold" text-anchor="middle" fill="#111" transform="translate(186.9 307.5) rotate(-90) scale(1 1.12)" stroke="#111" stroke-width="0.6">ELISA (OD 405)</text>
<line x1="207.9" y1="366.6" x2="343.2" y2="366.6" stroke="#111" stroke-width="1.8"/>
<line x1="218.6" y1="363.1" x2="218.6" y2="366.6" stroke="#111" stroke-width="1.5"/>
<line x1="229.2" y1="363.1" x2="229.2" y2="366.6" stroke="#111" stroke-width="1.5"/>
<line x1="239" y1="363.1" x2="239" y2="366.6" stroke="#111" stroke-width="1.5"/>
<line x1="249.6" y1="363.1" x2="249.6" y2="366.6" stroke="#111" stroke-width="1.5"/>
<line x1="260.2" y1="363.1" x2="260.2" y2="366.6" stroke="#111" stroke-width="1.5"/>
<line x1="270.5" y1="363.1" x2="270.5" y2="366.6" stroke="#111" stroke-width="1.5"/>
<line x1="280.6" y1="363.1" x2="280.6" y2="366.6" stroke="#111" stroke-width="1.5"/>
<line x1="290.8" y1="363.1" x2="290.8" y2="366.6" stroke="#111" stroke-width="1.5"/>
<line x1="301" y1="363.1" x2="301" y2="366.6" stroke="#111" stroke-width="1.5"/>
<line x1="311.7" y1="363.1" x2="311.7" y2="366.6" stroke="#111" stroke-width="1.5"/>
<line x1="322.3" y1="363.1" x2="322.3" y2="366.6" stroke="#111" stroke-width="1.5"/>
<line x1="332.7" y1="363.1" x2="332.7" y2="366.6" stroke="#111" stroke-width="1.5"/>
<line x1="342.6" y1="363.1" x2="342.6" y2="366.6" stroke="#111" stroke-width="1.5"/>
<line x1="210.35" y1="349" x2="210.35" y2="347.3" stroke="#333" stroke-width="1"/>
<line x1="209.1" y1="347.3" x2="211.6" y2="347.3" stroke="#333" stroke-width="1"/>
<rect x="208.2" y="349" width="4.3" height="17.6" fill="#0c0c0c"/>
<line x1="214.9" y1="349.6" x2="214.9" y2="347.9" stroke="#777" stroke-width="1"/>
<line x1="213.65" y1="347.9" x2="216.15" y2="347.9" stroke="#777" stroke-width="1"/>
<rect x="212.9" y="350" width="4" height="16.6" fill="#8a8a8a" stroke="#5a5a5a" stroke-width="0.8"/>
<line x1="221.65" y1="346.2" x2="221.65" y2="343.3" stroke="#333" stroke-width="1"/>
<line x1="220.4" y1="343.3" x2="222.9" y2="343.3" stroke="#333" stroke-width="1"/>
<rect x="220" y="346.2" width="3.3" height="20.4" fill="#0c0c0c"/>
<line x1="225.7" y1="342.1" x2="225.7" y2="340.2" stroke="#777" stroke-width="1"/>
<line x1="224.45" y1="340.2" x2="226.95" y2="340.2" stroke="#777" stroke-width="1"/>
<rect x="223.7" y="342.5" width="4" height="24.1" fill="#8a8a8a" stroke="#5a5a5a" stroke-width="0.8"/>
<line x1="231.65" y1="350.2" x2="231.65" y2="348.2" stroke="#333" stroke-width="1"/>
<line x1="230.4" y1="348.2" x2="232.9" y2="348.2" stroke="#333" stroke-width="1"/>
<rect x="230" y="350.2" width="3.3" height="16.4" fill="#0c0c0c"/>
<line x1="235.7" y1="347.1" x2="235.7" y2="345.8" stroke="#777" stroke-width="1"/>
<line x1="234.45" y1="345.8" x2="236.95" y2="345.8" stroke="#777" stroke-width="1"/>
<rect x="233.7" y="347.5" width="4" height="19.1" fill="#8a8a8a" stroke="#5a5a5a" stroke-width="0.8"/>
<line x1="241.8" y1="353" x2="241.8" y2="351.1" stroke="#333" stroke-width="1"/>
<line x1="240.55" y1="351.1" x2="243.05" y2="351.1" stroke="#333" stroke-width="1"/>
<rect x="240" y="353" width="3.6" height="13.6" fill="#0c0c0c"/>
<line x1="246.05" y1="352.5" x2="246.05" y2="351.7" stroke="#777" stroke-width="1"/>
<line x1="244.8" y1="351.7" x2="247.3" y2="351.7" stroke="#777" stroke-width="1"/>
<rect x="244" y="352.9" width="4.1" height="13.7" fill="#8a8a8a" stroke="#5a5a5a" stroke-width="0.8"/>
<line x1="252.2" y1="292.3" x2="252.2" y2="283.7" stroke="#333" stroke-width="1"/>
<line x1="250.95" y1="283.7" x2="253.45" y2="283.7" stroke="#333" stroke-width="1"/>
<rect x="250.4" y="292.3" width="3.6" height="74.3" fill="#0c0c0c"/>
<line x1="256.6" y1="281.7" x2="256.6" y2="274.4" stroke="#777" stroke-width="1"/>
<line x1="255.35" y1="274.4" x2="257.85" y2="274.4" stroke="#777" stroke-width="1"/>
<rect x="254.4" y="282.1" width="4.4" height="84.5" fill="#8a8a8a" stroke="#5a5a5a" stroke-width="0.8"/>
<line x1="262.65" y1="288.8" x2="262.65" y2="279.2" stroke="#333" stroke-width="1"/>
<line x1="261.4" y1="279.2" x2="263.9" y2="279.2" stroke="#333" stroke-width="1"/>
<rect x="261.2" y="288.8" width="2.9" height="77.8" fill="#0c0c0c"/>
<line x1="266.65" y1="288.2" x2="266.65" y2="282.3" stroke="#777" stroke-width="1"/>
<line x1="265.4" y1="282.3" x2="267.9" y2="282.3" stroke="#777" stroke-width="1"/>
<rect x="264.5" y="288.6" width="4.3" height="78" fill="#8a8a8a" stroke="#5a5a5a" stroke-width="0.8"/>
<line x1="272.95" y1="297.4" x2="272.95" y2="288.9" stroke="#333" stroke-width="1"/>
<line x1="271.7" y1="288.9" x2="274.2" y2="288.9" stroke="#333" stroke-width="1"/>
<rect x="271.5" y="297.4" width="2.9" height="69.2" fill="#0c0c0c"/>
<line x1="277.2" y1="284.2" x2="277.2" y2="277.3" stroke="#777" stroke-width="1"/>
<line x1="275.95" y1="277.3" x2="278.45" y2="277.3" stroke="#777" stroke-width="1"/>
<rect x="274.8" y="284.6" width="4.8" height="82" fill="#8a8a8a" stroke="#5a5a5a" stroke-width="0.8"/>
<line x1="283.1" y1="301" x2="283.1" y2="292.9" stroke="#333" stroke-width="1"/>
<line x1="281.85" y1="292.9" x2="284.35" y2="292.9" stroke="#333" stroke-width="1"/>
<rect x="281.4" y="301" width="3.4" height="65.6" fill="#0c0c0c"/>
<line x1="287.4" y1="298.7" x2="287.4" y2="293.5" stroke="#777" stroke-width="1"/>
<line x1="286.15" y1="293.5" x2="288.65" y2="293.5" stroke="#777" stroke-width="1"/>
<rect x="285.2" y="299.1" width="4.4" height="67.5" fill="#8a8a8a" stroke="#5a5a5a" stroke-width="0.8"/>
<line x1="293.4" y1="306" x2="293.4" y2="298.3" stroke="#333" stroke-width="1"/>
<line x1="292.15" y1="298.3" x2="294.65" y2="298.3" stroke="#333" stroke-width="1"/>
<rect x="291.6" y="306" width="3.6" height="60.6" fill="#0c0c0c"/>
<line x1="297.75" y1="312.7" x2="297.75" y2="308" stroke="#777" stroke-width="1"/>
<line x1="296.5" y1="308" x2="299" y2="308" stroke="#777" stroke-width="1"/>
<rect x="295.6" y="313.1" width="4.3" height="53.5" fill="#8a8a8a" stroke="#5a5a5a" stroke-width="0.8"/>
<line x1="303.7" y1="290.2" x2="303.7" y2="281" stroke="#333" stroke-width="1"/>
<line x1="302.45" y1="281" x2="304.95" y2="281" stroke="#333" stroke-width="1"/>
<rect x="301.8" y="290.2" width="3.8" height="76.4" fill="#0c0c0c"/>
<line x1="308.15" y1="278.1" x2="308.15" y2="271.2" stroke="#777" stroke-width="1"/>
<line x1="306.9" y1="271.2" x2="309.4" y2="271.2" stroke="#777" stroke-width="1"/>
<rect x="306" y="278.5" width="4.3" height="88.1" fill="#8a8a8a" stroke="#5a5a5a" stroke-width="0.8"/>
<line x1="314.45" y1="301" x2="314.45" y2="292.8" stroke="#333" stroke-width="1"/>
<line x1="313.2" y1="292.8" x2="315.7" y2="292.8" stroke="#333" stroke-width="1"/>
<rect x="312.7" y="301" width="3.5" height="65.6" fill="#0c0c0c"/>
<line x1="318.75" y1="306" x2="318.75" y2="301.3" stroke="#777" stroke-width="1"/>
<line x1="317.5" y1="301.3" x2="320" y2="301.3" stroke="#777" stroke-width="1"/>
<rect x="316.6" y="306.4" width="4.3" height="60.2" fill="#8a8a8a" stroke="#5a5a5a" stroke-width="0.8"/>
<line x1="324.8" y1="328.8" x2="324.8" y2="324.5" stroke="#333" stroke-width="1"/>
<line x1="323.55" y1="324.5" x2="326.05" y2="324.5" stroke="#333" stroke-width="1"/>
<rect x="323" y="328.8" width="3.6" height="37.8" fill="#0c0c0c"/>
<line x1="329.1" y1="333.7" x2="329.1" y2="330.9" stroke="#777" stroke-width="1"/>
<line x1="327.85" y1="330.9" x2="330.35" y2="330.9" stroke="#777" stroke-width="1"/>
<rect x="327" y="334.1" width="4.2" height="32.5" fill="#8a8a8a" stroke="#5a5a5a" stroke-width="0.8"/>
<line x1="335.2" y1="340.6" x2="335.2" y2="337.5" stroke="#333" stroke-width="1"/>
<line x1="333.95" y1="337.5" x2="336.45" y2="337.5" stroke="#333" stroke-width="1"/>
<rect x="333.5" y="340.6" width="3.4" height="26" fill="#0c0c0c"/>
<line x1="339.25" y1="342.5" x2="339.25" y2="340.2" stroke="#777" stroke-width="1"/>
<line x1="338" y1="340.2" x2="340.5" y2="340.2" stroke="#777" stroke-width="1"/>
<rect x="337.3" y="342.9" width="3.9" height="23.7" fill="#8a8a8a" stroke="#5a5a5a" stroke-width="0.8"/>
<polygon points="294.8,289.8 295.58,291.13 297.08,291.46 296.06,292.61 296.21,294.14 294.8,293.52 293.39,294.14 293.54,292.61 292.52,291.46 294.02,291.13" fill="#111"/>
<line x1="315.9" y1="286.4" x2="336" y2="286.4" stroke="#111" stroke-width="1.3"/>
<polygon points="326,281.6 326.78,282.93 328.28,283.26 327.26,284.41 327.41,285.94 326,285.32 324.59,285.94 324.74,284.41 323.72,283.26 325.22,282.93" fill="#111"/>
<rect x="215.5" y="258.4" width="36.2" height="24.9" fill="#fff" stroke="#444" stroke-width="0.8"/>
<rect x="219.9" y="262.3" width="6.8" height="6.4" fill="#0c0c0c"/>
<rect x="220.2" y="274" width="6.3" height="6.3" fill="#8a8a8a" stroke="#5a5a5a" stroke-width="0.6"/>
<text x="231.6" y="267.9" font-size="5.5" font-weight="bold" text-anchor="start" fill="#111" stroke="#111" stroke-width="0.3">ICAM</text>
<text x="231.6" y="279.4" font-size="5.5" font-weight="bold" text-anchor="start" fill="#111" stroke="#111" stroke-width="0.3">VCAM</text>
<text x="0" y="0" font-size="6.5" font-weight="bold" text-anchor="start" fill="#111" transform="translate(211.4 367.8) rotate(90) scale(1 0.88)" stroke="#111" stroke-width="0.65">(-) Control</text>
<text x="0" y="0" font-size="6.5" font-weight="bold" text-anchor="start" fill="#111" transform="translate(222 367.8) rotate(90) scale(1 0.88)" stroke="#111" stroke-width="0.65">WE-Thrombin (5 nM)</text>
<text x="0" y="0" font-size="6.5" font-weight="bold" text-anchor="start" fill="#111" transform="translate(232.7 367.8) rotate(90) scale(1 0.88)" stroke="#111" stroke-width="0.65">PC-WT (80 nM)</text>
<text x="0" y="0" font-size="6.5" font-weight="bold" text-anchor="start" fill="#111" transform="translate(242 367.8) rotate(90) scale(1 0.88)" stroke="#111" stroke-width="0.65">PC-T315A (80 nM)</text>
<text x="0" y="0" font-size="6.5" font-weight="bold" text-anchor="start" fill="#111" transform="translate(252 367.8) rotate(90) scale(1 0.88)" stroke="#111" stroke-width="0.65">LPS (10 ng/ml)</text>
<text x="0" y="0" font-size="6.5" font-weight="bold" text-anchor="middle" fill="#111" transform="translate(265.4 374.2) scale(1 1.1)" stroke="#111" stroke-width="0.5">10</text>
<text x="0" y="0" font-size="6.5" font-weight="bold" text-anchor="middle" fill="#111" transform="translate(274.95 374.2) scale(1 1.1)" stroke="#111" stroke-width="0.5">20</text>
<text x="0" y="0" font-size="6.5" font-weight="bold" text-anchor="middle" fill="#111" transform="translate(284.9 373.5) scale(1 1.1)" stroke="#111" stroke-width="0.5">40</text>
<text x="0" y="0" font-size="6.5" font-weight="bold" text-anchor="middle" fill="#111" transform="translate(296.8 374.2) scale(1 1.1)" stroke="#111" stroke-width="0.5">80</text>
<text x="0" y="0" font-size="6.5" font-weight="bold" text-anchor="middle" fill="#111" transform="translate(306.45 374.2) scale(1 1.1)" stroke="#111" stroke-width="0.5">10</text>
<text x="0" y="0" font-size="6.5" font-weight="bold" text-anchor="middle" fill="#111" transform="translate(316.2 374.2) scale(1 1.1)" stroke="#111" stroke-width="0.5">20</text>
<text x="0" y="0" font-size="6.5" font-weight="bold" text-anchor="middle" fill="#111" transform="translate(327.65 373.7) scale(1 1.1)" stroke="#111" stroke-width="0.5">40</text>
<text x="0" y="0" font-size="6.5" font-weight="bold" text-anchor="middle" fill="#111" transform="translate(337 373.7) scale(1 1.1)" stroke="#111" stroke-width="0.5">80</text>
<line x1="262.2" y1="376.3" x2="297" y2="376.3" stroke="#111" stroke-width="1.2"/>
<line x1="303.9" y1="375.7" x2="338.7" y2="375.7" stroke="#111" stroke-width="1.2"/>
<text x="258.8" y="385.3" font-size="7.1" font-weight="bold" text-anchor="start" fill="#111" stroke="#111" stroke-width="0.5">+WE-Thr +</text>
<text x="258.8" y="392.8" font-size="7.1" font-weight="bold" text-anchor="start" fill="#111" stroke="#111" stroke-width="0.5">PC-WT (nM)</text>
<text x="303.2" y="385.3" font-size="7.1" font-weight="bold" text-anchor="start" fill="#111" stroke="#111" stroke-width="0.5">+WE-Thr + PC</text>
<text x="303.2" y="392.8" font-size="7.1" font-weight="bold" text-anchor="start" fill="#111" stroke="#111" stroke-width="0.5">T315A (nM)</text>
<text x="351.3" y="253.4" font-size="16" font-weight="bold" text-anchor="start" fill="#111" stroke="#111" stroke-width="0.9">E</text>
<line x1="379.9" y1="261.48" x2="379.9" y2="365.8" stroke="#111" stroke-width="1.8"/>
<line x1="379.9" y1="271.6" x2="383.4" y2="271.6" stroke="#111" stroke-width="1.5"/>
<line x1="379.9" y1="290.44" x2="383.4" y2="290.44" stroke="#111" stroke-width="1.5"/>
<line x1="379.9" y1="309.28" x2="383.4" y2="309.28" stroke="#111" stroke-width="1.5"/>
<line x1="379.9" y1="328.12" x2="383.4" y2="328.12" stroke="#111" stroke-width="1.5"/>
<line x1="379.9" y1="346.96" x2="383.4" y2="346.96" stroke="#111" stroke-width="1.5"/>
<line x1="379.9" y1="262.18" x2="382.4" y2="262.18" stroke="#111" stroke-width="1.5"/>
<line x1="379.9" y1="281.02" x2="382.4" y2="281.02" stroke="#111" stroke-width="1.5"/>
<line x1="379.9" y1="299.86" x2="382.4" y2="299.86" stroke="#111" stroke-width="1.5"/>
<line x1="379.9" y1="318.7" x2="382.4" y2="318.7" stroke="#111" stroke-width="1.5"/>
<line x1="379.9" y1="337.54" x2="382.4" y2="337.54" stroke="#111" stroke-width="1.5"/>
<line x1="379.9" y1="356.38" x2="382.4" y2="356.38" stroke="#111" stroke-width="1.5"/>
<text x="0" y="0" font-size="9" font-weight="bold" text-anchor="end" fill="#111" transform="translate(373.4 275.5) scale(1 1.1)" stroke="#111" stroke-width="0.5">100</text>
<text x="0" y="0" font-size="9" font-weight="bold" text-anchor="end" fill="#111" transform="translate(373.4 294.34) scale(1 1.1)" stroke="#111" stroke-width="0.5">80</text>
<text x="0" y="0" font-size="9" font-weight="bold" text-anchor="end" fill="#111" transform="translate(373.4 313.18) scale(1 1.1)" stroke="#111" stroke-width="0.5">60</text>
<text x="0" y="0" font-size="9" font-weight="bold" text-anchor="end" fill="#111" transform="translate(373.4 332.02) scale(1 1.1)" stroke="#111" stroke-width="0.5">40</text>
<text x="0" y="0" font-size="9" font-weight="bold" text-anchor="end" fill="#111" transform="translate(373.4 350.86) scale(1 1.1)" stroke="#111" stroke-width="0.5">20</text>
<text x="0" y="0" font-size="9" font-weight="bold" text-anchor="end" fill="#111" transform="translate(373.4 369.7) scale(1 1.1)" stroke="#111" stroke-width="0.5">0</text>
<text x="0" y="0" font-size="10.8" font-weight="bold" text-anchor="middle" fill="#111" transform="translate(361 316.2) rotate(-90)" stroke="#111" stroke-width="0.5">% Adherence</text>
<line x1="379" y1="365.8" x2="515.8" y2="365.8" stroke="#111" stroke-width="1.8"/>
<line x1="393.4" y1="361.8" x2="393.4" y2="365.8" stroke="#111" stroke-width="1.6"/>
<line x1="406.6" y1="361.8" x2="406.6" y2="365.8" stroke="#111" stroke-width="1.6"/>
<line x1="420.4" y1="361.8" x2="420.4" y2="365.8" stroke="#111" stroke-width="1.6"/>
<line x1="433.6" y1="361.8" x2="433.6" y2="365.8" stroke="#111" stroke-width="1.6"/>
<line x1="446.9" y1="361.8" x2="446.9" y2="365.8" stroke="#111" stroke-width="1.6"/>
<line x1="460.8" y1="361.8" x2="460.8" y2="365.8" stroke="#111" stroke-width="1.6"/>
<line x1="474.5" y1="361.8" x2="474.5" y2="365.8" stroke="#111" stroke-width="1.6"/>
<line x1="487.8" y1="361.8" x2="487.8" y2="365.8" stroke="#111" stroke-width="1.6"/>
<line x1="501.6" y1="361.8" x2="501.6" y2="365.8" stroke="#111" stroke-width="1.6"/>
<line x1="515" y1="361.8" x2="515" y2="365.8" stroke="#111" stroke-width="1.6"/>
<line x1="386.55" y1="335.8" x2="386.55" y2="332.7" stroke="#707070" stroke-width="1.4"/>
<line x1="384.05" y1="332.7" x2="389.05" y2="332.7" stroke="#707070" stroke-width="1.4"/>
<rect x="382.5" y="336.3" width="8.1" height="29.5" fill="#7e7e7e" stroke="#383838" stroke-width="1"/>
<line x1="399.75" y1="336.2" x2="399.75" y2="333.7" stroke="#707070" stroke-width="1.4"/>
<line x1="397.25" y1="333.7" x2="402.25" y2="333.7" stroke="#707070" stroke-width="1.4"/>
<rect x="395.6" y="336.7" width="8.3" height="29.1" fill="#7e7e7e" stroke="#383838" stroke-width="1"/>
<line x1="413.45" y1="334.8" x2="413.45" y2="331.2" stroke="#707070" stroke-width="1.4"/>
<line x1="410.95" y1="331.2" x2="415.95" y2="331.2" stroke="#707070" stroke-width="1.4"/>
<rect x="409.3" y="335.3" width="8.3" height="30.5" fill="#7e7e7e" stroke="#383838" stroke-width="1"/>
<line x1="427.15" y1="273.6" x2="427.15" y2="264.2" stroke="#707070" stroke-width="1.4"/>
<line x1="424.65" y1="264.2" x2="429.65" y2="264.2" stroke="#707070" stroke-width="1.4"/>
<rect x="423.3" y="274.1" width="7.7" height="91.7" fill="#7e7e7e" stroke="#383838" stroke-width="1"/>
<line x1="440.5" y1="276.4" x2="440.5" y2="267.2" stroke="#707070" stroke-width="1.4"/>
<line x1="438" y1="267.2" x2="443" y2="267.2" stroke="#707070" stroke-width="1.4"/>
<rect x="436.7" y="276.9" width="7.6" height="88.9" fill="#7e7e7e" stroke="#383838" stroke-width="1"/>
<line x1="453.7" y1="281.1" x2="453.7" y2="272.2" stroke="#707070" stroke-width="1.4"/>
<line x1="451.2" y1="272.2" x2="456.2" y2="272.2" stroke="#707070" stroke-width="1.4"/>
<rect x="449.5" y="281.6" width="8.4" height="84.2" fill="#7e7e7e" stroke="#383838" stroke-width="1"/>
<line x1="467.5" y1="300" x2="467.5" y2="293" stroke="#707070" stroke-width="1.4"/>
<line x1="465" y1="293" x2="470" y2="293" stroke="#707070" stroke-width="1.4"/>
<rect x="463.7" y="300.5" width="7.6" height="65.3" fill="#7e7e7e" stroke="#383838" stroke-width="1"/>
<line x1="481.2" y1="288.3" x2="481.2" y2="280.6" stroke="#707070" stroke-width="1.4"/>
<line x1="478.7" y1="280.6" x2="483.7" y2="280.6" stroke="#707070" stroke-width="1.4"/>
<rect x="477.2" y="288.8" width="8" height="77" fill="#7e7e7e" stroke="#383838" stroke-width="1"/>
<line x1="494.55" y1="317.5" x2="494.55" y2="313.3" stroke="#707070" stroke-width="1.4"/>
<line x1="492.05" y1="313.3" x2="497.05" y2="313.3" stroke="#707070" stroke-width="1.4"/>
<rect x="490.6" y="318" width="7.9" height="47.8" fill="#7e7e7e" stroke="#383838" stroke-width="1"/>
<line x1="508.35" y1="329.2" x2="508.35" y2="325" stroke="#707070" stroke-width="1.4"/>
<line x1="505.85" y1="325" x2="510.85" y2="325" stroke="#707070" stroke-width="1.4"/>
<rect x="504.2" y="329.7" width="8.3" height="36.1" fill="#7e7e7e" stroke="#383838" stroke-width="1"/>
<polygon points="467,285.8 467.81,287.19 469.38,287.53 468.31,288.72 468.47,290.32 467,289.68 465.53,290.32 465.69,288.72 464.62,287.53 466.19,287.19" fill="#111"/>
<line x1="490.3" y1="304.7" x2="513.9" y2="304.7" stroke="#111" stroke-width="1.3"/>
<polygon points="503,298.5 503.81,299.89 505.38,300.23 504.31,301.42 504.47,303.02 503,302.38 501.53,303.02 501.69,301.42 500.62,300.23 502.19,299.89" fill="#111"/>
<text x="0" y="0" font-size="6.5" font-weight="bold" text-anchor="start" fill="#111" transform="translate(385.6 367.8) rotate(90) scale(1 0.88)" stroke="#111" stroke-width="0.65">(-) Control</text>
<text x="0" y="0" font-size="6.5" font-weight="bold" text-anchor="start" fill="#111" transform="translate(396 367.8) rotate(90) scale(1 0.88)" stroke="#111" stroke-width="0.65">WE-Thrombin (5 nM)</text>
<text x="0" y="0" font-size="6.5" font-weight="bold" text-anchor="start" fill="#111" transform="translate(406.7 367.8) rotate(90) scale(1 0.88)" stroke="#111" stroke-width="0.65">PC-WT (80 nM)</text>
<text x="0" y="0" font-size="6.5" font-weight="bold" text-anchor="start" fill="#111" transform="translate(416.4 367.8) rotate(90) scale(1 0.88)" stroke="#111" stroke-width="0.65">PC-T315A (80 nM)</text>
<text x="0" y="0" font-size="6.5" font-weight="bold" text-anchor="start" fill="#111" transform="translate(427 367.8) rotate(90) scale(1 0.88)" stroke="#111" stroke-width="0.65">LPS (10 ng/ml)</text>
<text x="0" y="0" font-size="7" font-weight="bold" text-anchor="middle" fill="#111" transform="translate(441.2 373.7) scale(1 1.05)" stroke="#111" stroke-width="0.5">20</text>
<text x="0" y="0" font-size="7" font-weight="bold" text-anchor="middle" fill="#111" transform="translate(455.2 373.7) scale(1 1.05)" stroke="#111" stroke-width="0.5">40</text>
<text x="0" y="0" font-size="7" font-weight="bold" text-anchor="middle" fill="#111" transform="translate(467.9 375) scale(1 1.05)" stroke="#111" stroke-width="0.5">80</text>
<text x="0" y="0" font-size="7" font-weight="bold" text-anchor="middle" fill="#111" transform="translate(481.4 373.7) scale(1 1.05)" stroke="#111" stroke-width="0.5">20</text>
<text x="0" y="0" font-size="7" font-weight="bold" text-anchor="middle" fill="#111" transform="translate(494.6 373.7) scale(1 1.05)" stroke="#111" stroke-width="0.5">40</text>
<text x="0" y="0" font-size="7" font-weight="bold" text-anchor="middle" fill="#111" transform="translate(508.5 374.2) scale(1 1.05)" stroke="#111" stroke-width="0.5">80</text>
<line x1="437" y1="375.3" x2="471.3" y2="375.3" stroke="#111" stroke-width="1.3"/>
<line x1="477.8" y1="375.3" x2="513.4" y2="375.3" stroke="#111" stroke-width="1.3"/>
<text x="433" y="384.9" font-size="6.9" font-weight="bold" text-anchor="start" fill="#111" stroke="#111" stroke-width="0.5">+WE-Thr +</text>
<text x="433" y="392.8" font-size="6.9" font-weight="bold" text-anchor="start" fill="#111" stroke="#111" stroke-width="0.5">PC-WT (nM)</text>
<text x="475.2" y="384.9" font-size="6.9" font-weight="bold" text-anchor="start" fill="#111" stroke="#111" stroke-width="0.5">+WE-Thr+PC-</text>
<text x="475.2" y="392.8" font-size="6.9" font-weight="bold" text-anchor="start" fill="#111" stroke="#111" stroke-width="0.5">T315A (nM)</text>
</svg>
</body></html>
